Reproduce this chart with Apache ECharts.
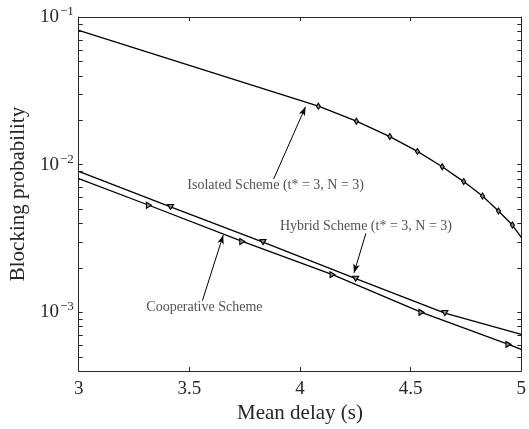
<!DOCTYPE html>
<html><head><meta charset="utf-8">
<script src="https://cdn.jsdelivr.net/npm/echarts@6/dist/echarts.min.js"></script>
<style>html,body{margin:0;padding:0;background:#fff}#c{width:529px;height:429px}</style>
</head><body><div id="c"></div>
<script>
// ---- data (x = mean delay in s, p = blocking probability) ----
const isoX  = [3, 4.083, 4.255, 4.406, 4.531, 4.643, 4.740, 4.825, 4.897, 4.960, 5];
const isoP  = [0.0813, 0.0249, 0.0197, 0.0155, 0.0123, 0.00968, 0.00768, 0.00614, 0.00486, 0.00390, 0.00322];
const hybX  = [3, 3.415, 3.833, 4.252, 4.655, 5];
const hybP  = [0.00902, 0.00517, 0.00299, 0.00169, 0.000988, 0.000708];
const coopX = [3, 3.317, 3.739, 4.147, 4.549, 4.942, 5];
const coopP = [0.00804, 0.00531, 0.00302, 0.00180, 0.00100, 0.000607, 0.000562];
const xTickLabels = [3, 3.5, 4, 4.5, 5];
const yDecades = [-3, -2, -1];
const annTexts = ['Isolated Scheme (t* = 3, N = 3)', 'Hybrid Scheme (t* = 3, N = 3)', 'Cooperative Scheme'];
const annTextX = [3.890, 4.298, 3.568];
const annTextP = [0.00730, 0.00385, 0.00108];
const arrowFromX = [3.881, 4.298, 3.559];
const arrowFromP = [0.00800, 0.00343, 0.00120];
const arrowToX = [4.025, 4.244, 3.653];
const arrowToP = [0.02466, 0.00185, 0.00333];

// ---- build ----
const FONT = 'Liberation Serif';
const L = v => Math.log10(v);
const yMin = L(4e-4), yMax = -1;
const minorTicks = [];
for (let e = -4; e <= -1; e++) for (let k = 1; k <= 9; k++) {
  const v = L(k * Math.pow(10, e));
  if (v >= yMin - 1e-9 && v <= yMax + 1e-9) minorTicks.push(v);
}
const AX = '#262626';
function pts(xs, ps) {
  return xs.map((x, i) => ({
    value: [x, L(ps[i])],
    symbol: (i === 0 || i === xs.length - 1) ? 'none' : undefined
  }));
}
function lineSeries(name, xs, ps, symbol, rot, size) {
  return {
    name, type: 'line', data: pts(xs, ps), symbol, symbolRotate: rot, symbolSize: size,
    showSymbol: true, showAllSymbol: true,
    lineStyle: {color: '#000', width: 1.3},
    itemStyle: {color: '#888', borderColor: '#000', borderWidth: 1.1},
    emphasis: {disabled: true}, z: 3
  };
}
const yAxisBase = {
  type: 'value', min: yMin, max: yMax,
  splitLine: {show: false},
  axisLine: {show: true, onZero: false, lineStyle: {color: AX, width: 1}},
  axisTick: {show: true, inside: true, length: 4, customValues: minorTicks, lineStyle: {color: AX}}
};
const xAxisBase = {
  type: 'value', min: 3, max: 5, interval: 0.5,
  splitLine: {show: false},
  axisLine: {show: true, onZero: false, lineStyle: {color: AX, width: 1}},
  axisTick: {show: true, inside: true, length: 4, lineStyle: {color: AX}}
};
const chart = echarts.init(document.getElementById('c'), null, {renderer: 'canvas'});
chart.setOption({
  animation: false,
  backgroundColor: '#fff',
  grid: {left: 78, right: 5, top: 17, bottom: 53, containLabel: false},
  xAxis: [
    Object.assign({}, xAxisBase, {
      position: 'bottom',
      name: 'Mean delay (s)', nameLocation: 'middle', nameGap: 25,
      nameTextStyle: {fontFamily: FONT, fontSize: 21, color: '#262626'},
      axisLabel: {show: true, margin: 8, fontFamily: FONT, fontSize: 19, color: '#262626',
        customValues: xTickLabels, formatter: v => String(v)}
    }),
    Object.assign({}, xAxisBase, {position: 'top', axisLabel: {show: false}})
  ],
  yAxis: [
    Object.assign({}, yAxisBase, {
      position: 'left',
      name: 'Blocking probability', nameLocation: 'middle', nameGap: 44, nameRotate: 90,
      nameTextStyle: {fontFamily: FONT, fontSize: 21, color: '#262626'},
      axisLabel: {show: true, margin: 5, customValues: yDecades,
        formatter: v => '{b|10}{s|\u2212' + Math.abs(Math.round(v)) + '}',
        rich: {
          b: {fontFamily: FONT, fontSize: 19, color: '#262626', lineHeight: 24, verticalAlign: 'middle'},
          s: {fontFamily: FONT, fontSize: 13, color: '#262626', lineHeight: 24, verticalAlign: 'top', padding: [0, 0, 0, 1]}
        }}
    }),
    Object.assign({}, yAxisBase, {position: 'right', axisLabel: {show: false}})
  ],
  series: [
    lineSeries('Isolated', isoX, isoP, 'diamond', 0, [4, 6]),
    lineSeries('Hybrid', hybX, hybP, 'triangle', 180, [6, 5]),
    lineSeries('Cooperative', coopX, coopP, 'triangle', -90, [6, 5]),
    {
      name: 'annotations', type: 'scatter', symbolSize: 0,
      data: annTexts.map((t, i) => ({value: [annTextX[i], L(annTextP[i])], name: t})),
      label: {show: true, position: 'inside', formatter: p => p.name,
        fontFamily: FONT, fontSize: 14, color: '#262626'},
      emphasis: {disabled: true},
      markLine: {
        silent: true, symbol: ['none', 'arrow'], symbolSize: [5, 9],
        label: {show: false},
        lineStyle: {color: '#000', width: 1, type: 'solid'},
        data: arrowFromX.map((x, i) => [
          {coord: [x, L(arrowFromP[i])]},
          {coord: [arrowToX[i], L(arrowToP[i])]}
        ])
      },
      z: 4
    }
  ]
});
</script></body></html>
